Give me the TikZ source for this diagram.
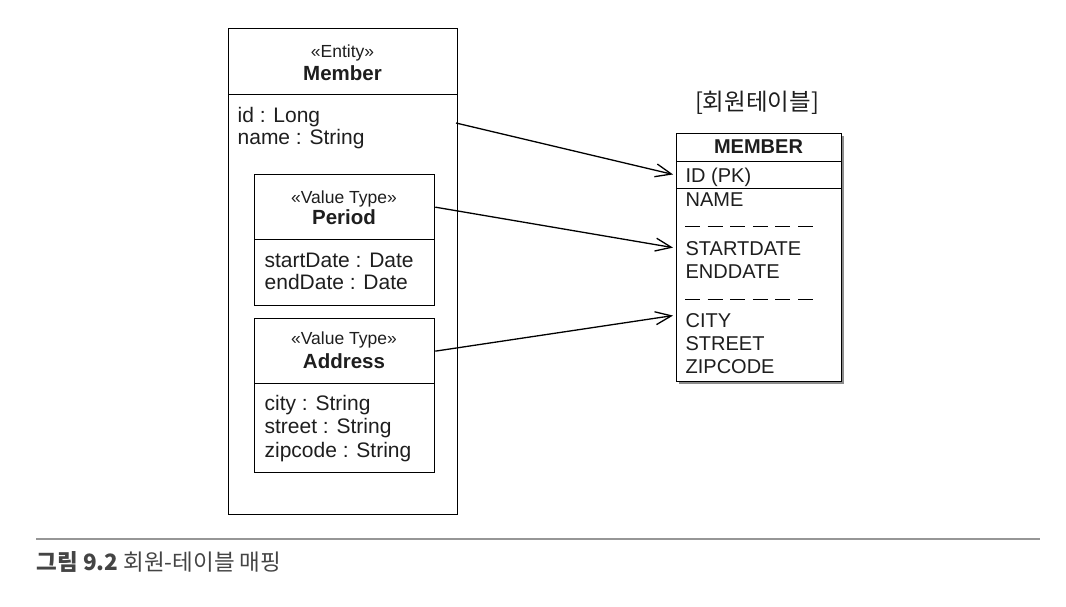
\documentclass[tikz,border=0pt]{standalone}
\usepackage{fontspec}
\setmainfont{Liberation Sans}
\newfontfamily\krfont{Noto Sans CJK KR}
\usetikzlibrary{arrows.meta}
\definecolor{mygray}{RGB}{68,68,68}
\definecolor{rulegray}{RGB}{150,150,150}
\definecolor{shadowgray}{RGB}{140,140,140}
\definecolor{inkgray}{RGB}{30,30,30}

\begin{document}
\begin{tikzpicture}[x=1pt, y=-1pt, line width=1.3pt,
  >={Straight Barb[length=16pt,width=13pt]},
  box/.style={draw, anchor=north west, inner sep=0pt},
  ster/.style={anchor=base, inner sep=0pt, text=inkgray, font=\fontsize{17.5}{17.5}\selectfont},
  cls/.style={anchor=base, inner sep=0pt, text=inkgray, font=\fontsize{20.5}{20.5}\selectfont\bfseries},
  attr/.style={anchor=base west, inner sep=0pt, text=inkgray, font=\fontsize{21}{21}\selectfont},
  col/.style={anchor=base west, inner sep=0pt, text=inkgray, font=\fontsize{20}{20}\selectfont},
  sep/.style={line width=0.9pt, dash pattern=on 15pt off 7.6pt}]
\useasboundingbox (0,0) rectangle (1066,606);

% Member entity
\node[box, minimum width=229pt, minimum height=66pt] (memberhead) at (228,28) {};
\node[box, minimum width=229pt, minimum height=420pt] (memberbody) at (228,94) {};
\node[ster] (entity) at (342.5,57) {«Entity»};
\node[cls] (member) at (342.5,80) {Member};
\node[attr] (idattr) at (237,122) {id : Long};
\node[attr] (nameattr) at (237,144) {name : String};
\coordinate (idout) at (456,123);

% Period value type
\node[box, minimum width=180pt, minimum height=65pt] (periodhead) at (254,174) {};
\node[box, minimum width=180pt, minimum height=66pt] (periodbody) at (254,239) {};
\node[ster] (periodster) at (344,203) {«Value Type»};
\node[cls] (period) at (344,224) {Period};
\node[attr] (startattr) at (264,267) {startDate : Date};
\node[attr] (endattr) at (264,289) {endDate : Date};

% Address value type
\node[box, minimum width=180pt, minimum height=65pt] (addrhead) at (254,318) {};
\node[box, minimum width=180pt, minimum height=89pt] (addrbody) at (254,383) {};
\node[ster] (addrster) at (344,344) {«Value Type»};
\node[cls] (address) at (344,368) {Address};
\node[attr] (cityattr) at (264,410) {city : String};
\node[attr] (streetattr) at (264,433) {street : String};
\node[attr] (zipattr) at (264,457) {zipcode : String};

% table
\node[anchor=base, inner sep=0pt, text=inkgray, font=\krfont\fontsize{23.5}{23.5}\selectfont] (tabletitle) at (757,110) {[회원테이블]};
\fill[shadowgray] (679,136) rectangle (844,384);
\node[box, fill=white, minimum width=165pt, minimum height=248pt] (tablebody) at (676,133) {};
\node[box, minimum width=165pt, minimum height=28pt] (tablehead) at (676,133) {};
\node[box, minimum width=165pt, minimum height=27pt] (idrow) at (676,161) {};
\node[cls, font=\fontsize{20}{20}\selectfont\bfseries] (tablename) at (758.5,153) {MEMBER};
\node[col] (idcol) at (685,182) {ID (PK)};
\node[col] (namecol) at (685,206) {NAME};
\draw[sep] (685,226) -- (813,226);
\node[col] (startdate) at (685,255) {STARTDATE};
\node[col] (enddate) at (685,278) {ENDDATE};
\draw[sep] (685,299) -- (813,299);
\node[col] (city) at (685,327) {CITY};
\node[col] (street) at (685,350) {STREET};
\node[col] (zipcode) at (685,373) {ZIPCODE};

% mapping
\draw[->, shorten >=3pt] (idout) -- (idrow.west);
\draw[->, shorten >=3pt] (periodhead.east) -- (startdate.west -| tablebody.west);
\draw[->, shorten >=3pt] (addrhead.east) -- ([yshift=5pt]city.west -| tablebody.west);

% caption
\draw[rulegray, line width=1.5pt] (36,539) -- (1040,539);
\node[anchor=base west, inner sep=0pt, text=mygray, font=\krfont\fontsize{22.5}{22.5}\selectfont] (caption) at (36,570) {{\bfseries 그림 9.2} 회원-테이블 매핑};
\end{tikzpicture}
\end{document}
